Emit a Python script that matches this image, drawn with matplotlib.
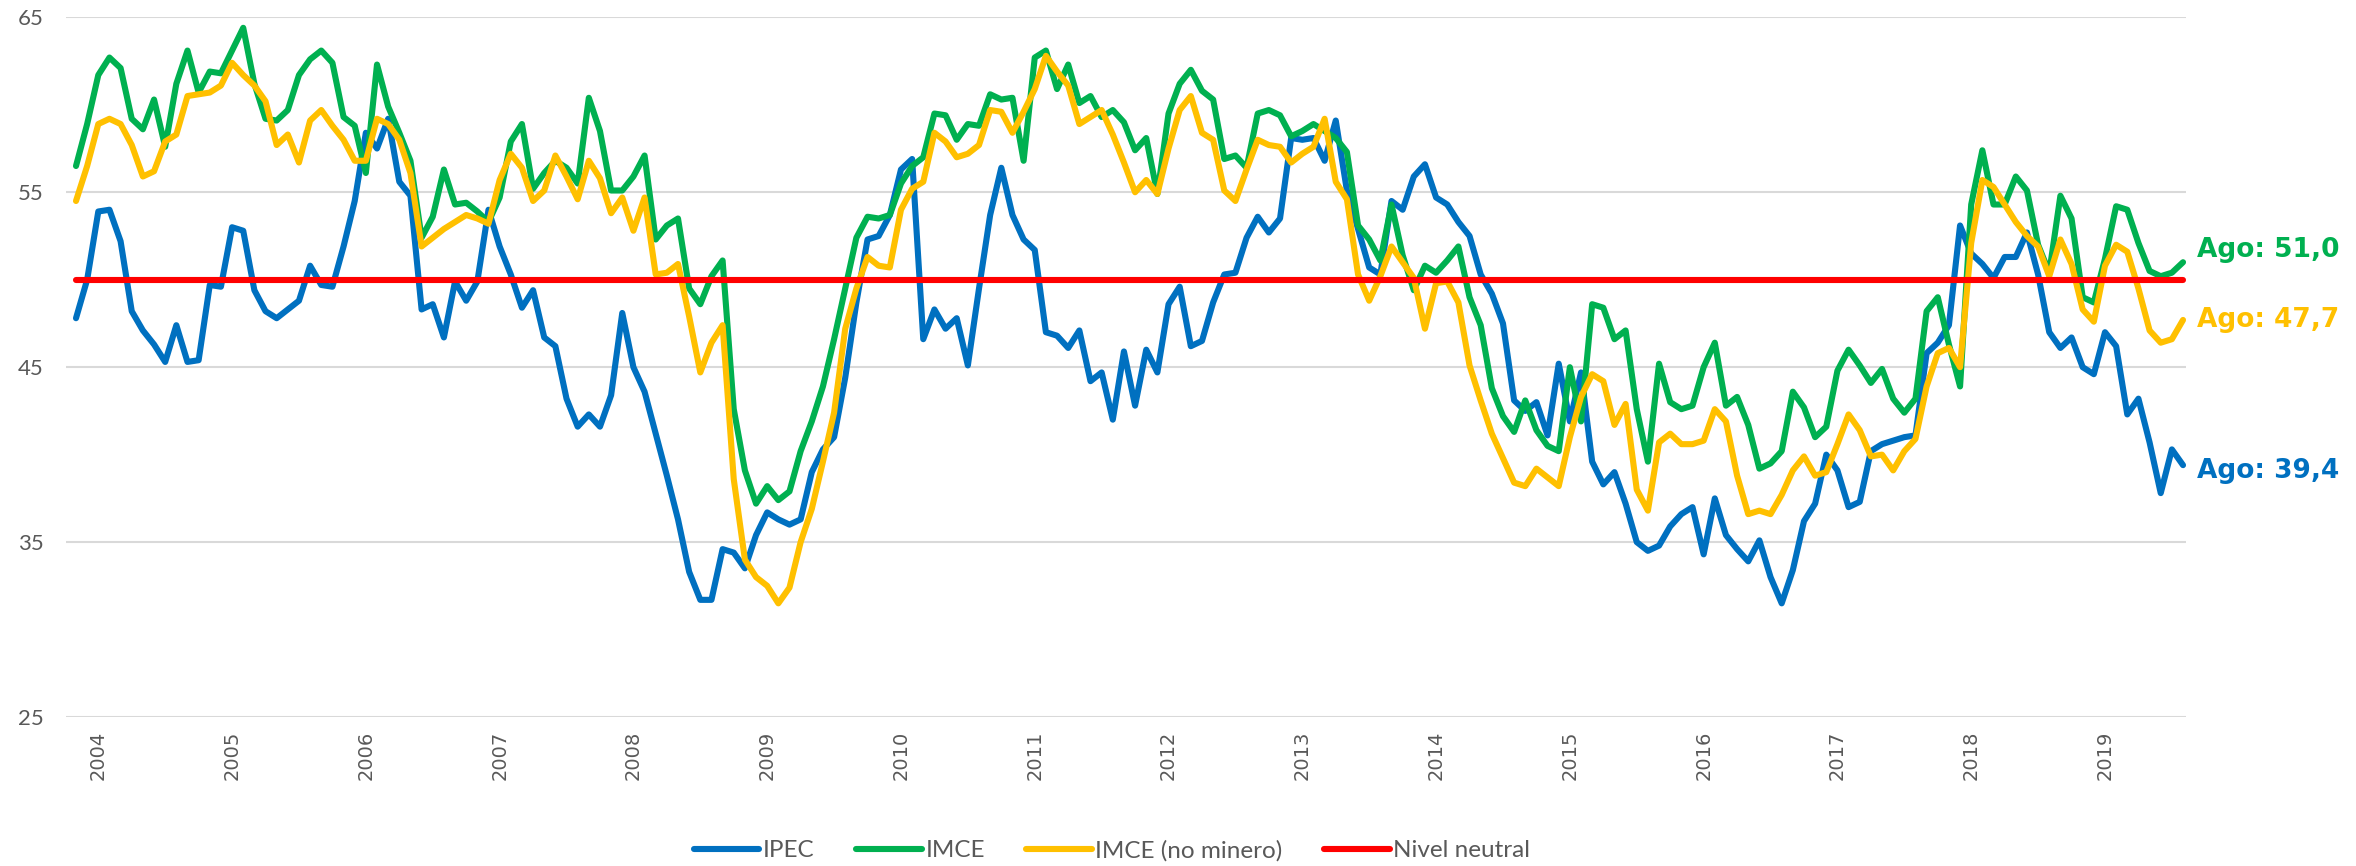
import numpy as np
import pandas as pd
import matplotlib
matplotlib.use('Agg')
import matplotlib.pyplot as plt

# Monthly index values, Nov 2003 - Aug 2019
months = pd.period_range('2003-11', '2019-08', freq='M')

ipec = [47.8, 50.0, 53.9, 54.0, 52.2, 48.2, 47.1, 46.3, 45.3, 47.4, 45.3, 45.4,
        49.7, 49.6, 53.0, 52.8, 49.4, 48.2, 47.8, 48.3, 48.8, 50.8, 49.7, 49.6,
        51.9, 54.5, 58.4, 57.5, 59.2, 55.6, 54.8, 48.3, 48.6, 46.7, 49.9, 48.8,
        49.9, 54.0, 51.9, 50.3, 48.4, 49.4, 46.7, 46.2, 43.2, 41.6, 42.3, 41.6,
        43.4, 48.1, 45.0, 43.6, 41.2, 38.8, 36.3, 33.3, 31.7, 31.7, 34.6, 34.4,
        33.5, 35.4, 36.7, 36.3, 36.0, 36.3, 39.0, 40.3, 41.0, 44.4, 48.7, 52.3, 52.5,
        53.7, 56.3, 56.9, 46.6, 48.3, 47.2, 47.8, 45.1, 49.5, 53.7, 56.4, 53.7,
        52.3, 51.7, 47.0, 46.8, 46.1, 47.1, 44.2, 44.7, 42.0, 45.9, 42.8, 46.0,
        44.7, 48.6, 49.6, 46.2, 46.5, 48.7, 50.3, 50.4, 52.4, 53.6, 52.7, 53.5,
        58.1, 58.0, 58.1, 56.8, 59.1, 55.1, 52.9, 50.7, 50.3, 54.5, 54.0, 55.9,
        56.6, 54.7, 54.3, 53.3, 52.5, 50.3, 49.2, 47.5, 43.1, 42.5, 43.0, 41.1,
        45.2, 41.9, 44.7, 39.6, 38.3, 39.0, 37.2, 35.0, 34.5, 34.8, 35.9, 36.6,
        37.0, 34.3, 37.5, 35.4, 34.6, 33.9, 35.1, 33.0, 31.5, 33.4, 36.2, 37.2,
        40.0, 39.1, 37.0, 37.3, 40.2, 40.6, 40.8, 41.0, 41.1, 45.8, 46.4, 47.4, 53.1,
        51.5, 50.9, 50.1, 51.3, 51.3, 52.7, 50.3, 47.0, 46.1, 46.7, 45.0, 44.6,
        47.0, 46.2, 42.3, 43.2, 40.7, 37.8, 40.3, 39.4]

imce = [56.5, 58.9, 61.7, 62.7, 62.1, 59.2, 58.6, 60.3, 57.6, 61.2, 63.1, 60.7,
        61.9, 61.8, 63.1, 64.4, 61.2, 59.2, 59.1, 59.7, 61.7, 62.6, 63.1, 62.4,
        59.3, 58.8, 56.1, 62.3, 59.9, 58.4, 56.8, 52.4, 53.6, 56.3, 54.3, 54.4,
        53.9, 53.3, 54.7, 57.9, 58.9, 55.2, 56.1, 56.8, 56.4, 55.5, 60.4, 58.5,
        55.1, 55.1, 55.9, 57.1, 52.3, 53.1, 53.5, 49.5, 48.6, 50.2, 51.1, 42.6,
        39.1, 37.2, 38.2, 37.4, 37.9, 40.2, 41.9, 43.9, 46.6, 49.5, 52.4, 53.6, 53.5,
        53.7, 55.5, 56.5, 57.0, 59.5, 59.4, 58.0, 58.9, 58.8, 60.6, 60.3, 60.4,
        56.8, 62.7, 63.1, 60.9, 62.3, 60.1, 60.5, 59.3, 59.7, 59.0, 57.4, 58.1,
        54.9, 59.5, 61.2, 62.0, 60.8, 60.3, 56.9, 57.1, 56.4, 59.5, 59.7, 59.4,
        58.2, 58.5, 58.9, 58.5, 58.1, 57.3, 53.1, 52.3, 51.1, 54.3, 51.4, 49.4,
        50.8, 50.4, 51.1, 51.9, 49.0, 47.4, 43.8, 42.2, 41.3, 43.1, 41.4, 40.5,
        40.2, 45.0, 41.9, 48.6, 48.4, 46.6, 47.1, 42.6, 39.6, 45.2, 43.0, 42.6,
        42.8, 45.0, 46.4, 42.8, 43.3, 41.7, 39.2, 39.5, 40.2, 43.6, 42.7, 41.0,
        41.6, 44.8, 46.0, 45.1, 44.1, 44.9, 43.2, 42.4, 43.2, 48.2, 49.0, 46.3, 43.9,
        54.3, 57.4, 54.3, 54.3, 55.9, 55.1, 52.0, 50.4, 54.8, 53.5, 49.0, 48.7,
        51.2, 54.2, 54.0, 52.1, 50.5, 50.2, 50.4, 51.0]

imce_nm = [54.5, 56.5, 58.9, 59.2, 58.9, 57.7, 55.9, 56.2, 57.9, 58.3, 60.5, 60.6,
           60.7, 61.1, 62.4, 61.7, 61.1, 60.2, 57.7, 58.3, 56.7, 59.1, 59.7, 58.8,
           58.0, 56.8, 56.8, 59.2, 58.9, 58.0, 56.1, 51.9, 52.4, 52.9, 53.3, 53.7,
           53.5, 53.2, 55.7, 57.2, 56.4, 54.5, 55.1, 57.1, 55.9, 54.6, 56.8, 55.8,
           53.8, 54.7, 52.8, 54.7, 50.3, 50.4, 50.9, 47.9, 44.7, 46.4, 47.4, 38.6,
           34.0, 33.0, 32.5, 31.5, 32.4, 35.0, 36.9, 39.6, 42.4, 47.2, 49.5, 51.3, 50.8,
           50.7, 54.0, 55.2, 55.6, 58.4, 57.9, 57.0, 57.2, 57.7, 59.7, 59.6, 58.4,
           59.6, 60.9, 62.8, 61.9, 61.1, 58.9, 59.3, 59.7, 58.3, 56.7, 55.0, 55.7,
           54.9, 57.5, 59.7, 60.5, 58.4, 58.0, 55.1, 54.5, 56.3, 58.0, 57.7, 57.6,
           56.7, 57.2, 57.6, 59.2, 55.6, 54.6, 50.3, 48.8, 50.2, 51.9, 51.0, 50.1,
           47.2, 49.8, 49.9, 48.7, 45.1, 43.1, 41.2, 39.8, 38.4, 38.2, 39.2, 38.7,
           38.2, 41.0, 43.3, 44.6, 44.2, 41.7, 42.9, 38.0, 36.8, 40.7, 41.2, 40.6,
           40.6, 40.8, 42.6, 41.9, 38.8, 36.6, 36.8, 36.6, 37.7, 39.1, 39.9, 38.8,
           39.0, 40.6, 42.3, 41.4, 39.9, 40.0, 39.1, 40.2, 40.9, 43.9, 45.8, 46.1, 45.0,
           52.1, 55.7, 55.3, 54.3, 53.3, 52.5, 51.9, 50.2, 52.3, 50.9, 48.3, 47.6,
           50.8, 52.0, 51.6, 49.5, 47.1, 46.4, 46.6, 47.7]

neutral = 50
y_ticks = [25, 35, 45, 55, 65]

series = [
    ('IPEC', ipec, '#0070C0'),
    ('IMCE', imce, '#00B050'),
    ('IMCE (no minero)', imce_nm, '#FFC000'),
]
label_shift = {'IPEC': -4, 'IMCE': 9, 'IMCE (no minero)': 0}

x = np.arange(len(months))
gray = '#595959'

fig = plt.figure(figsize=(23.56, 8.66), dpi=100)
ax = fig.add_axes([0.028, 0.172, 0.900, 0.808])

lines = []
for name, vals, col in series:
    ln, = ax.plot(x, vals, color=col, lw=4.4, solid_joinstyle='round',
                  solid_capstyle='round', label=name, zorder=3)
    lines.append(ln)
ln, = ax.plot(x, np.full(len(x), neutral), color='#FF0000', lw=4.4,
              solid_capstyle='round', label='Nivel neutral', zorder=3)
lines.append(ln)

# end-of-series labels
for name, vals, col in series:
    txt = 'Ago: ' + f'{vals[-1]:.1f}'.replace('.', ',')
    ax.annotate(txt, xy=(x[-1], vals[-1]), xytext=(10, label_shift[name]),
                textcoords='offset points', color=col, fontsize=19,
                fontweight='bold', va='center', ha='left',
                annotation_clip=False)

ax.set_ylim(25, 65)
ax.set_yticks(y_ticks)
ax.set_xlim(-0.9, 189.3)
jan = [i for i, m in enumerate(months) if m.month == 1]
ax.set_xticks(jan)
ax.set_xticklabels([str(months[i].year) for i in jan], rotation=90,
                   fontsize=14, color=gray)
for lab in ax.get_yticklabels():
    lab.set_family(['Lato', 'DejaVu Sans'])
    lab.set_fontsize(16)
    lab.set_color(gray)
ax.tick_params(axis='both', length=0)
ax.tick_params(axis='y', pad=16)
ax.tick_params(axis='x', pad=10)
ax.yaxis.grid(True, color='#D9D9D9', lw=1.5)
ax.set_axisbelow(True)
for s in ax.spines.values():
    s.set_visible(False)

leg = fig.legend(handles=lines, loc='center', bbox_to_anchor=(0.472, 0.018),
                 ncol=4, frameon=False, handlelength=2.7, handletextpad=0.15,
                 columnspacing=1.7, prop={'family': ['Lato', 'DejaVu Sans'], 'size': 17.5})
for t in leg.get_texts():
    t.set_color(gray)

fig.savefig('out.png', dpi=100)
